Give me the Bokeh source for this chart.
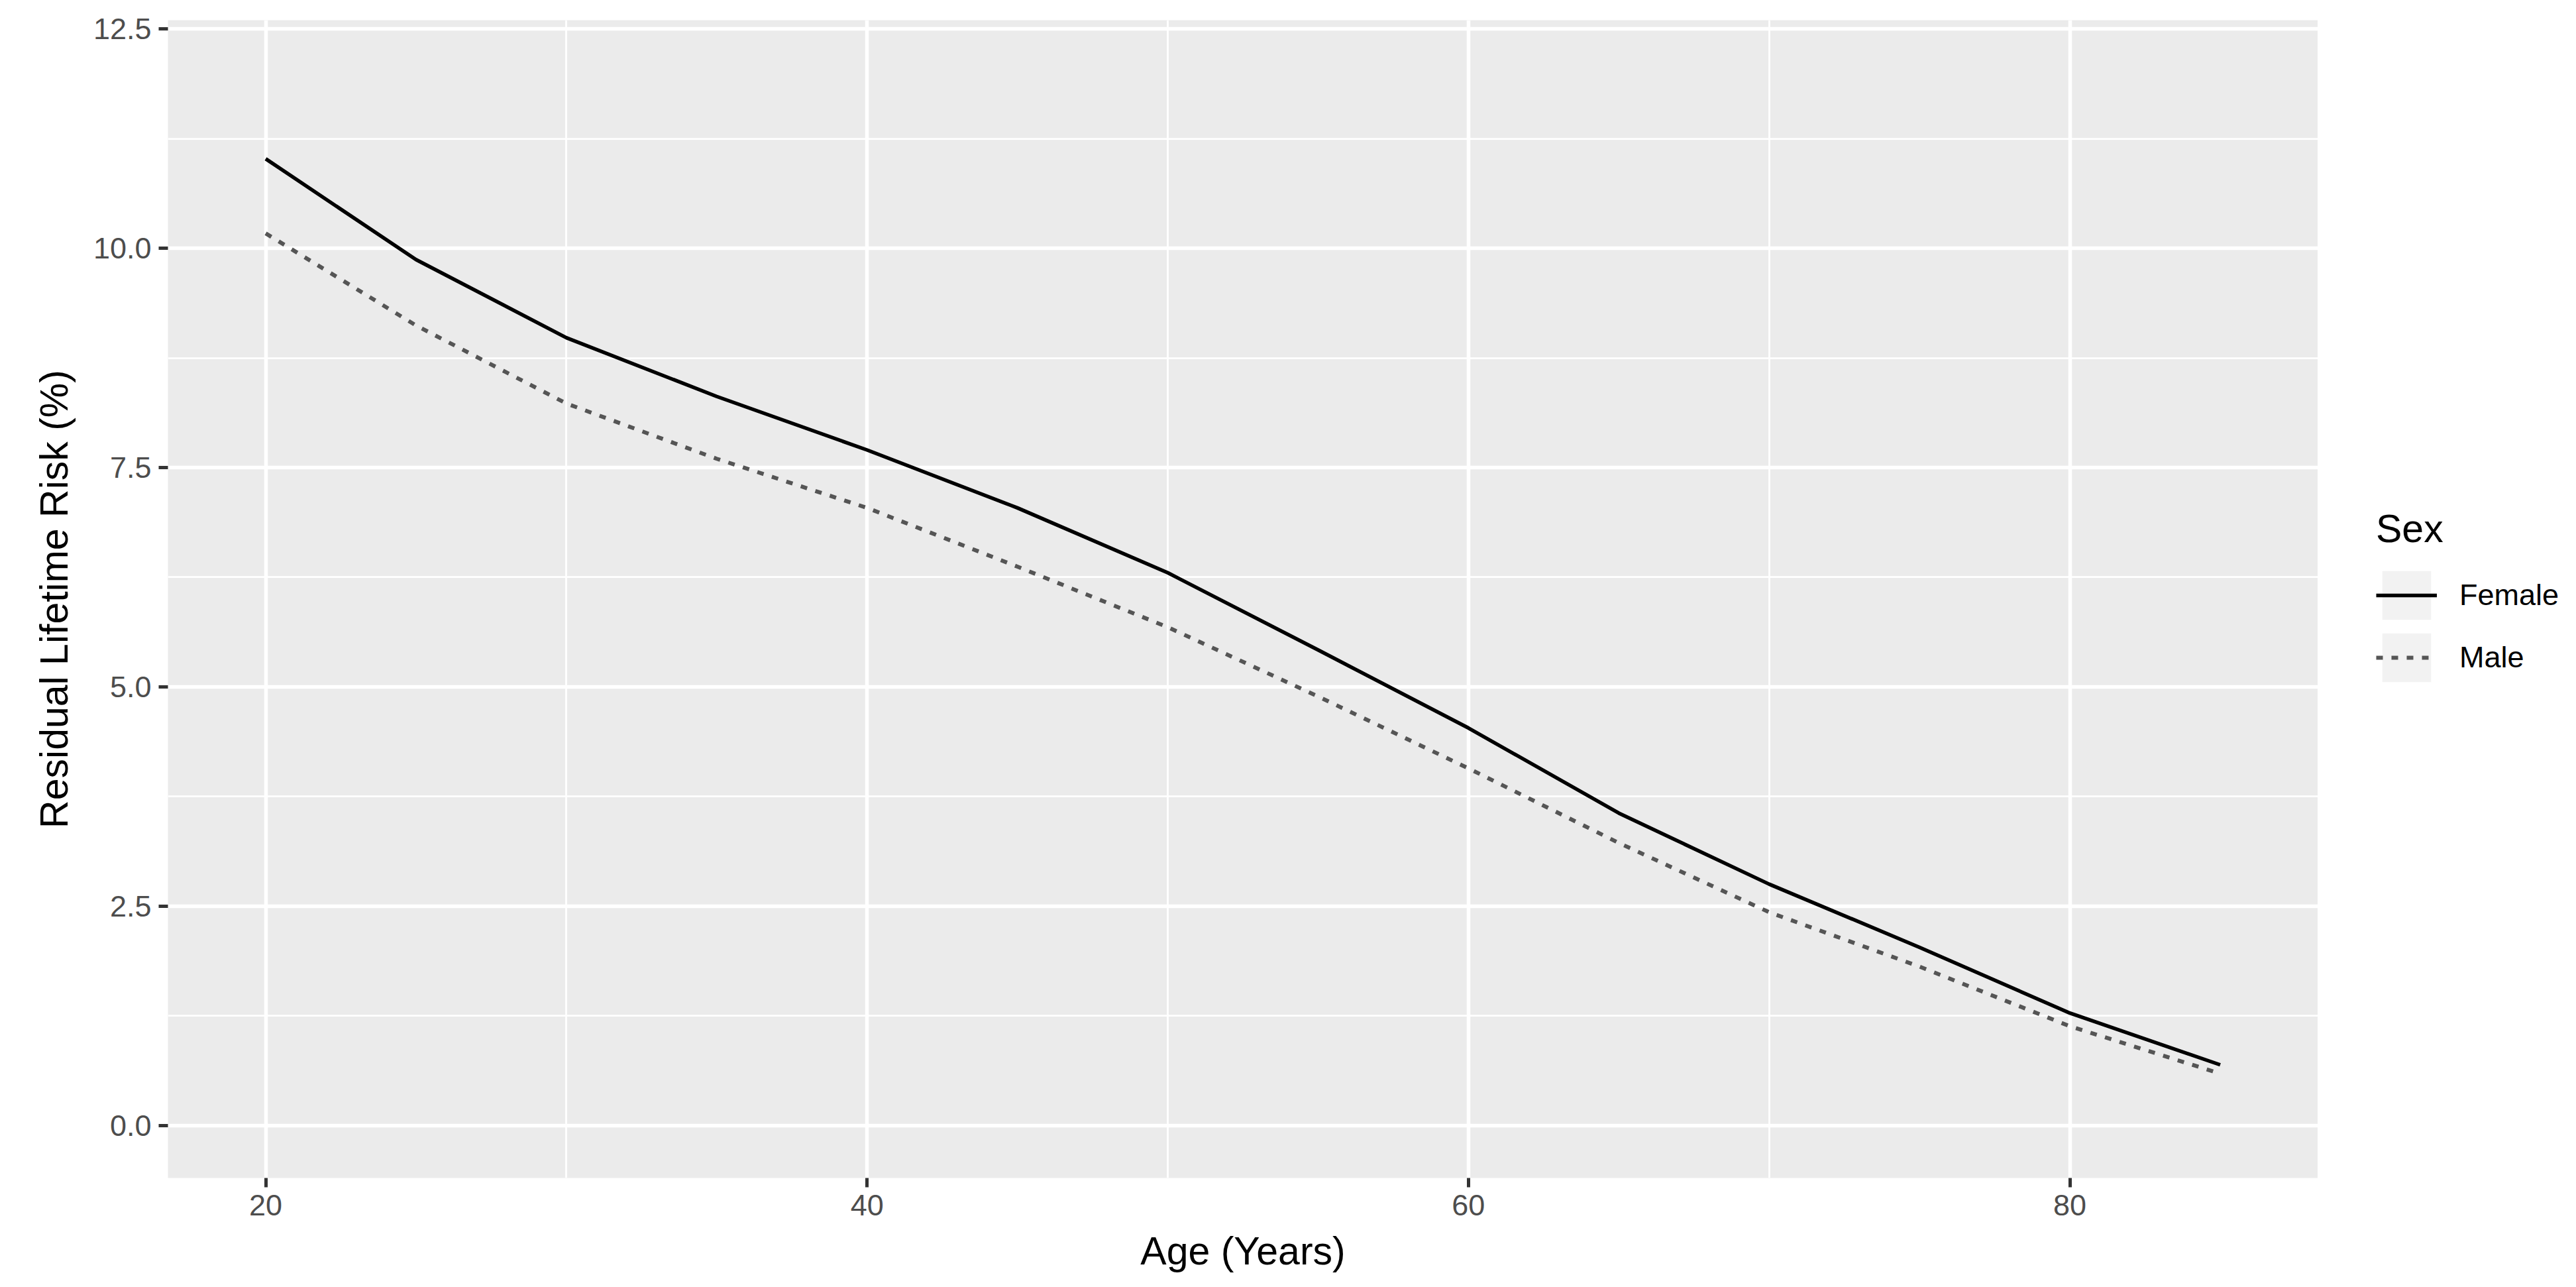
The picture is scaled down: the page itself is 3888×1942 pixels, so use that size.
from bokeh.plotting import figure
from bokeh.layouts import row
from bokeh.models import (Range1d, FixedTicker, NumeralTickFormatter, Legend,
                          LegendItem)
from bokeh.embed import file_html
from bokeh.resources import INLINE

# ---- data ----
ages = [20, 25, 30, 35, 40, 45, 50, 55, 60, 65, 70, 75, 80, 85]
female = [11.02, 9.87, 8.98, 8.31, 7.70, 7.04, 6.30, 5.42, 4.53, 3.56, 2.75, 2.03, 1.28, 0.69]
male = [10.17, 9.12, 8.23, 7.60, 7.04, 6.37, 5.68, 4.89, 4.07, 3.22, 2.43, 1.81, 1.13, 0.59]
sexes = ["Female", "Male"]
x_ticks = [20, 40, 60, 80]
x_minor = [30, 50, 70]
y_ticks = [0, 2.5, 5, 7.5, 10, 12.5]
y_minor = [1.25, 3.75, 6.25, 8.75, 11.25]

FONT = "Liberation Sans"
FEMALE_STYLE = dict(line_color="black", line_width=5.5)
MALE_STYLE = dict(line_color="#555555", line_width=6, line_dash="10 13")

FRAME_W, FRAME_H = 3245, 1747
TOP, BOTTOM = 30, 160

p = figure(frame_width=FRAME_W, frame_height=FRAME_H,
           x_range=Range1d(16.75, 88.25), y_range=Range1d(-0.6, 12.6),
           output_backend="svg", toolbar_location=None,
           min_border_left=253, min_border_right=0,
           min_border_top=TOP, min_border_bottom=BOTTOM,
           background_fill_color="#EBEBEB", border_fill_color="white",
           outline_line_color=None)

# grid
p.xaxis.ticker = FixedTicker(ticks=x_ticks, minor_ticks=x_minor)
p.yaxis.ticker = FixedTicker(ticks=y_ticks, minor_ticks=y_minor)
for g in (p.xgrid, p.ygrid):
    g.grid_line_color = "white"
    g.grid_line_width = 5.5
    g.minor_grid_line_color = "white"
    g.minor_grid_line_width = 2.75

# axes
p.yaxis.formatter = NumeralTickFormatter(format="0.0")
p.xaxis.formatter = NumeralTickFormatter(format="0")
for ax in (p.xaxis, p.yaxis):
    ax.axis_line_color = None
    ax.major_tick_in = 0
    ax.major_tick_out = 14
    ax.major_tick_line_color = "#333333"
    ax.major_tick_line_width = 5
    ax.minor_tick_line_color = None
    ax.major_label_text_font = FONT
    ax.major_label_text_font_size = "45px"
    ax.major_label_text_color = "#4D4D4D"
    ax.major_label_standoff = 11
    ax.axis_label_text_font = FONT
    ax.axis_label_text_font_size = "59px"
    ax.axis_label_text_font_style = "normal"
    ax.axis_label_text_color = "black"

p.xaxis.axis_label = "Age (Years)"
p.yaxis.axis_label = "Residual Lifetime Risk (%)"
p.xaxis.axis_label_standoff = 18
p.yaxis.axis_label_standoff = 23

# lines
p.line(ages, female, **FEMALE_STYLE)
p.line(ages, male, **MALE_STYLE)

# ---- legend panel (separate figure to the right of the plot) ----
# The legend figure's ranges exclude the data, so its renderers only
# show up as legend keys.
lg = figure(frame_width=382, frame_height=FRAME_H,
            x_range=Range1d(0, 1), y_range=Range1d(0, 1),
            x_axis_type=None, y_axis_type=None,
            output_backend="svg", toolbar_location=None,
            min_border_left=0, min_border_right=0,
            min_border_top=TOP, min_border_bottom=BOTTOM,
            background_fill_color="white", border_fill_color="white",
            outline_line_color=None)
lg.grid.visible = False

bg = lg.quad(left=ages[:1], right=ages[-1:], top=female[:1], bottom=male[-1:],
             fill_color="#F2F2F2", line_color=None)
lf = lg.line(ages, female, **FEMALE_STYLE)
lm = lg.line(ages, male, **MALE_STYLE)

legend = Legend(items=[LegendItem(label=sexes[0], renderers=[bg, lf]),
                       LegendItem(label=sexes[1], renderers=[bg, lm])],
                location=(88, 739))
legend.title = "Sex"
legend.title_text_font = FONT
legend.title_text_font_size = "59px"
legend.title_text_font_style = "normal"
legend.title_text_color = "black"
legend.title_standoff = 20
legend.label_text_font = FONT
legend.label_text_font_size = "45px"
legend.label_text_color = "black"
legend.label_standoff = 34
legend.glyph_width = 92
legend.glyph_height = 92
legend.spacing = 2
legend.padding = 0
legend.margin = 0
legend.border_line_color = None
legend.background_fill_alpha = 0
lg.add_layout(legend)

layout = row(p, lg)
open("out.html", "w").write(file_html(layout, INLINE))
